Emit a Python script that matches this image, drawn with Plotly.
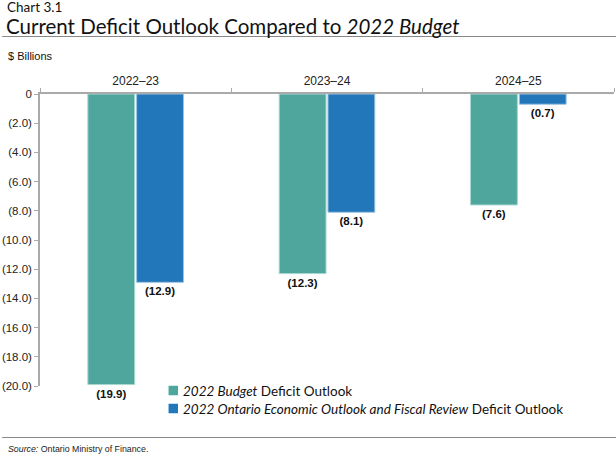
import plotly.graph_objects as go

categories = ["2022–23", "2023–24", "2024–25"]
budget_2022 = [-19.9, -12.3, -7.6]
fes_2022 = [-12.9, -8.1, -0.7]
y_ticks = [0, -2, -4, -6, -8, -10, -12, -14, -16, -18, -20]
y_tick_labels = ["0"] + [f"({abs(v):.1f})" for v in y_ticks[1:]]
series_names = ["<i>2022 Budget</i> Deficit Outlook",
                "<i>2022 Ontario Economic Outlook and Fiscal Review</i> Deficit Outlook"]

GREEN = "#4FA69D"
BLUE = "#2177B9"

def lbl(vals):
    return [f"<b>({abs(v):.1f})</b>" for v in vals]

fig = go.Figure()
for vals, name, col, edge in [(budget_2022, series_names[0], GREEN, "#A9D6D1"),
                              (fes_2022, series_names[1], BLUE, "#9CC3E3")]:
    fig.add_trace(go.Bar(
        x=categories, y=vals, name=name,
        marker=dict(color=col, line=dict(color=edge, width=1)),
        text=lbl(vals), textposition="outside",
        textfont=dict(family="Liberation Sans", size=11.5, color="#111"),
        cliponaxis=False,
    ))

L, R, T, B = 38, 2, 94, 70
PW, PH = 616 - L - R, 456 - T - B

def px(x):
    return (x - L) / PW

def py(y):
    return (456 - B - y) / PH

fig.update_layout(
    width=616, height=456,
    margin=dict(l=L, r=R, t=T, b=B),
    paper_bgcolor="white", plot_bgcolor="white",
    barmode="group", bargap=0.49, bargroupgap=0.04,
    showlegend=False,
    xaxis=dict(
        side="top", showline=True, linecolor="#AAAAAA", linewidth=1.5,
        ticks="outside", tickson="boundaries", ticklen=4, tickcolor="#AAAAAA",
        tickfont=dict(family="Liberation Sans", size=12, color="#222"),
        ticklabelstandoff=2,
        showgrid=False, zeroline=False, fixedrange=True,
    ),
    yaxis=dict(
        range=[-20, 0], tickvals=y_ticks, ticktext=y_tick_labels,
        showline=True, linecolor="#AAAAAA", linewidth=1.5,
        ticks="outside", ticklen=4, tickcolor="#AAAAAA",
        tickfont=dict(family="Liberation Sans", size=11.5, color="#222"),
        showgrid=False, zeroline=False,
    ),
)

annotations = [
    dict(text="Chart 3.1", x=3, y=7, font=dict(family="Lato", size=13.5, color="#111")),
    dict(text="Current Deficit Outlook Compared to <i>2022 Budget</i>", x=2, y=26.5,
         font=dict(family="Lato", size=20.5, color="#111")),
    dict(text="$ Billions", x=4, y=56, font=dict(family="Liberation Sans", size=11, color="#111")),
    dict(text="<i>Source:</i> Ontario Ministry of Finance.", x=4, y=449,
         font=dict(family="Liberation Sans", size=8.8, color="#222")),
    dict(text=series_names[0], x=179, y=390.5, font=dict(family="Lato", size=13.5, color="#111")),
    dict(text=series_names[1], x=179, y=408.5, font=dict(family="Lato", size=13.5, color="#111")),
]
for a in annotations:
    fig.add_annotation(
        text=a["text"], xref="paper", yref="paper",
        x=px(a["x"]), y=py(a["y"]),
        xanchor="left", yanchor="middle", showarrow=False, font=a["font"],
    )

for col, yc in [(GREEN, 390.5), (BLUE, 408.5)]:
    fig.add_shape(type="rect", xref="paper", yref="paper",
                  x0=px(167), x1=px(176.5), y0=py(yc + 4.75), y1=py(yc - 4.75),
                  fillcolor=col, line=dict(width=0))

for ypx in (36.5, 437.5):
    fig.add_shape(type="line", xref="paper", yref="paper",
                  x0=px(0), x1=px(616), y0=py(ypx), y1=py(ypx),
                  line=dict(color="#888888", width=1.2))

fig.write_html("out.html")
